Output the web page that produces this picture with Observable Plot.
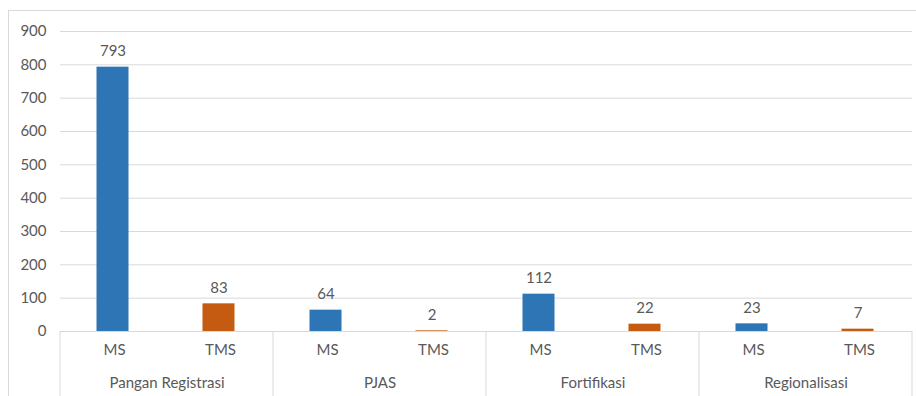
<!DOCTYPE html>
<html><head><meta charset="utf-8">
<script src="https://cdn.jsdelivr.net/npm/d3@7"></script>
<script src="https://cdn.jsdelivr.net/npm/@observablehq/plot@0.6"></script>
<style>
body{margin:0;background:#fff;}
#wrap{position:relative;width:916px;height:396px;overflow:hidden;background:#fff;}
#border{position:absolute;left:8px;top:10px;width:930px;height:420px;border:1.5px solid #d9d9d9;box-sizing:border-box;}
#wrap svg{position:absolute;left:0;top:0;}
</style></head><body><div id="wrap"><div id="border"></div></div>
<script>
const groups = ["Pangan Registrasi", "PJAS", "Fortifikasi", "Regionalisasi"];
const statuses = ["MS", "TMS"];
const msValues = [793, 64, 112, 23];
const tmsValues = [83, 2, 22, 7];
const yTicks = [0, 100, 200, 300, 400, 500, 600, 700, 800, 900];
const colors = ["#2E75B6", "#C55A11"];

const data = groups.flatMap((g, i) => [
  {group: g, status: statuses[0], value: msValues[i]},
  {group: g, status: statuses[1], value: tmsValues[i]}
]);

const plot = Plot.plot({
  width: 916, height: 396,
  marginLeft: 58, marginRight: 3, marginTop: 31, marginBottom: 65,
  style: {fontFamily: "Lato, 'Noto Sans', sans-serif", fontSize: "15px", color: "#595959", background: "transparent"},
  fx: {domain: groups, padding: 0, label: null},
  x: {domain: statuses, padding: 0, label: null},
  y: {domain: [0, 900], label: null},
  color: {domain: statuses, range: colors},
  marks: [
    Plot.gridY(yTicks, {stroke: "#d9d9d9", strokeOpacity: 1, strokeWidth: 1}),
    Plot.axisY(yTicks, {tickSize: 0, tickPadding: 14, label: null, fill: "#595959", fontSize: 15}),
    Plot.barY(data, {fx: "group", x: "status", y: "value", fill: "status", insetLeft: 37, insetRight: 37, dx: -1.5}),
    Plot.text(data, {fx: "group", x: "status", y: "value", text: "value", lineAnchor: "bottom", dy: -11, dx: -1.5, fill: "#595959", fontSize: 15}),
    Plot.axisX({tickSize: 0, tickPadding: 13, label: null, fill: "#595959", fontSize: 15}),
    Plot.axisFx({anchor: "bottom", tickSize: 0, tickPadding: 46, label: null, fill: "#595959", fontSize: 15}),
    Plot.ruleY([0], {stroke: "#d9d9d9", strokeWidth: 1})
  ]
});

// vertical separators between category groups, placed from the fx/y scales
const fx = plot.scale("fx");
const ys = plot.scale("y");
const y0 = ys.apply(0);
const edges = groups.map(g => fx.apply(g));
edges.push(fx.apply(groups[groups.length - 1]) + fx.bandwidth);
d3.select(plot).append("g")
  .selectAll("line").data(edges).join("line")
  .attr("x1", d => d).attr("x2", d => d)
  .attr("y1", y0).attr("y2", 396)
  .attr("stroke", "#d9d9d9").attr("stroke-width", 1);

document.getElementById("wrap").appendChild(plot);
</script>
</body></html>
